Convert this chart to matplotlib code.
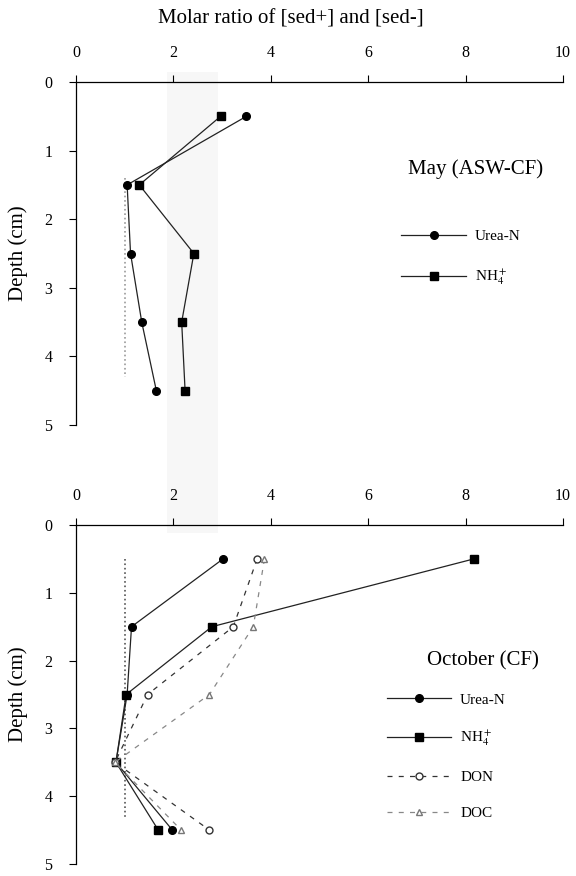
import matplotlib
matplotlib.use('Agg')
import numpy as np
import matplotlib.pyplot as plt

matplotlib.rcParams.update({'font.family': 'Liberation Serif', 'mathtext.fontset': 'stix',
                            'font.size': 11, 'legend.frameon': False})

# depths (cm)
depth = [0.5, 1.5, 2.5, 3.5, 4.5]

# May (ASW-CF)
may_urea = [3.5, 1.05, 1.12, 1.35, 1.65]
may_nh4 = [2.97, 1.3, 2.42, 2.17, 2.24]

# October (CF)
oct_urea = [3.02, 1.14, 1.05, 0.82, 1.98]
oct_nh4 = [8.17, 2.79, 1.03, 0.82, 1.69]
oct_don = [3.72, 3.23, 1.47, 0.8, 2.74]
oct_doc = [3.87, 3.64, 2.74, 0.8, 2.16]

# reference ratio = 1
ref_x = 1.0
may_ref_depth = [1.4, 4.3]
oct_ref_depth = [0.5, 4.3]

band = [1.87, 2.92]

xticks = [0, 2, 4, 6, 8, 10]
yticks = [0, 1, 2, 3, 4, 5]

fig = plt.figure(figsize=(5.76, 8.76), dpi=100)

left, width = 76/576, 487/576
ax1 = fig.add_axes([left, 1 - 425/876, width, 343/876])
ax2 = fig.add_axes([left, 1 - 864/876, width, 339/876])

# faint scan band behind both panels
axb = fig.add_axes([left, 1 - 533/876, width, (533 - 72)/876], zorder=-1)
axb.set_xlim(0, 10)
axb.axvspan(band[0], band[1], color='#f7f7f7', lw=0)
axb.axis('off')

line_kw = dict(color='#222222', linewidth=0.9)


def style(ax):
    ax.set_facecolor('none')
    ax.set_xlim(0, 10)
    ax.set_ylim(5, 0)
    ax.xaxis.tick_top()
    ax.spines['right'].set_visible(False)
    ax.spines['bottom'].set_visible(False)
    ax.spines['top'].set_linewidth(0.9)
    ax.spines['left'].set_linewidth(0.9)
    ax.set_xticks(xticks)
    ax.set_yticks(yticks)
    ax.tick_params(axis='x', direction='out', length=5, width=0.8, pad=10, labelsize=11.5)
    ax.tick_params(axis='y', direction='out', length=5, width=0.8, pad=12, labelsize=11.5)
    ax.set_ylabel('Depth (cm)', fontsize=15, labelpad=12)


style(ax1)
ax1.vlines(ref_x, may_ref_depth[0], may_ref_depth[1], colors='#999999', linestyles=':', linewidth=1.2)
ax1.plot(may_urea, depth, marker='o', markersize=5.5, mfc='k', mec='k', label='Urea-N', **line_kw)
ax1.plot(may_nh4, depth, marker='s', markersize=5.5, mfc='k', mec='k', label=r'NH$_4^+$', **line_kw)
ax1.text(0.82, 0.745, 'May (ASW-CF)', transform=ax1.transAxes, ha='center', va='center', fontsize=15)
ax1.legend(loc='upper left', bbox_to_anchor=(0.64, 0.61), handlelength=4.2, labelspacing=1.6,
           numpoints=1, fontsize=11, handletextpad=0.6)
fig.text(0.505, 0.978, 'Molar ratio of [sed+] and [sed-]', ha='center', va='center', fontsize=15)

style(ax2)
ax2.vlines(ref_x, oct_ref_depth[0], oct_ref_depth[1], colors='#555555', linestyles=':', linewidth=1.2)
ax2.plot(oct_urea, depth, marker='o', markersize=5.5, mfc='k', mec='k', label='Urea-N', **line_kw)
ax2.plot(oct_nh4, depth, marker='s', markersize=5.5, mfc='k', mec='k', label=r'NH$_4^+$', **line_kw)
ax2.plot(oct_don, depth, marker='o', markersize=5, mfc='white', mec='#333333', linestyle='--',
         dashes=(4, 5), color='#333333', linewidth=0.9, label='DON')
ax2.plot(oct_doc, depth, marker='^', markersize=5, mfc='white', mec='#777777', linestyle='--',
         dashes=(4, 5), color='#888888', linewidth=0.9, label='DOC')
ax2.text(0.835, 0.6, 'October (CF)', transform=ax2.transAxes, ha='center', va='center', fontsize=15)
ax2.legend(loc='upper left', bbox_to_anchor=(0.61, 0.545), handlelength=4.2, labelspacing=1.45,
           numpoints=1, fontsize=11, handletextpad=0.6)

plt.savefig('out.png', dpi=100)
